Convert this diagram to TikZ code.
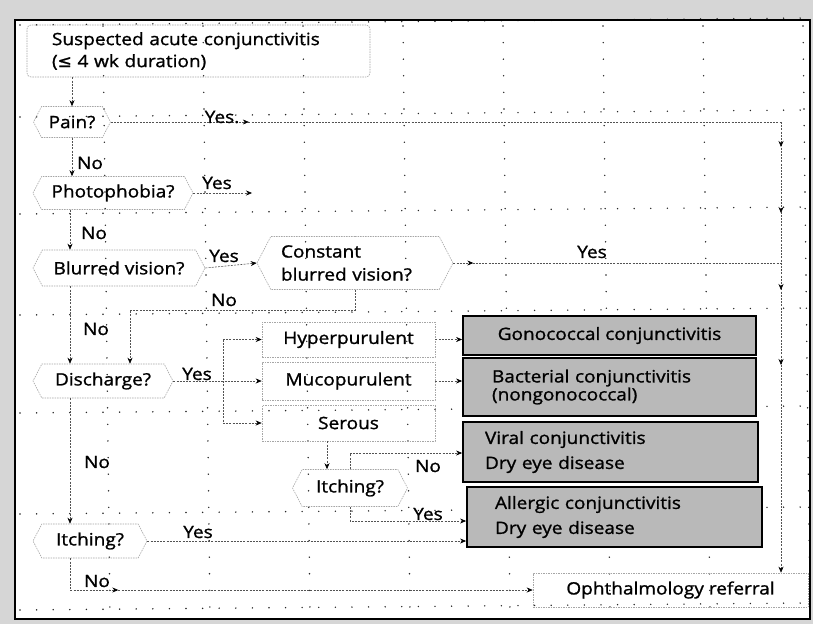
\documentclass[tikz,border=0pt]{standalone}
\usepackage{fontspec}
\setmainfont{Open Sans}[FakeStretch=1.12,FakeBold=1.2]
\newfontfamily\symf{DejaVu Sans}[FakeBold=1.2]
\usetikzlibrary{arrows.meta,shapes.symbols,decorations.markings}
\tikzset{
 griddot/.style={black!85, line width=1.6pt, line cap=round, dash pattern=on 0pt off 16.6pt},
 conn/.style={gray!65!black, line width=0.6pt, dash pattern=on 2pt off 1.2pt},
 arr/.style={-{Stealth[length=6pt,width=5pt,color=black]}},
 marr/.style={postaction={decorate,decoration={markings,mark=at position #1 with {\arrow{Stealth[length=6pt,width=5pt,color=black]}}}}},
 hexa/.style={signal, signal to=east and west, signal pointer angle=125, draw=gray!70, line width=0.6pt, dash pattern=on 1.5pt off 1pt, inner sep=0pt, align=center},
 lbox/.style={rectangle, draw=gray!70, line width=0.6pt, dash pattern=on 1.5pt off 1pt, inner sep=0pt},
 dbox/.style={rectangle, draw=black, line width=1.8pt, fill=gray!55, inner sep=0pt, align=left},
 lbl/.style={inner sep=0pt}
}
\begin{document}
\begin{tikzpicture}[x=1pt,y=-1pt,font=\fontsize{17}{22}\selectfont]
\useasboundingbox (0,0) rectangle (813,624);
\fill[gray!32] (0,0) rectangle (813,624);
\fill[white] (15,20) rectangle (810,619);
% dot grid
\foreach \x in {103,203,303,403,503,603,703,803} \draw[griddot] (\x,26) -- (\x+7,614);
\foreach \y in {25,117,214,315,413,514,610} \draw[griddot] (20,\y) -- (806,\y-7);
\draw[line width=2.5pt] (15,20) rectangle (810,619);

% nodes
\node[lbox, rounded corners=4pt, minimum width=343pt, minimum height=52pt, text width=293pt, align=left] (start) at (198.5,51) {Suspected acute conjunctivitis\\({\symf ≤} 4 wk duration)};
\node[hexa, minimum width=77pt, minimum height=31pt] (pain) at (72,122) {Pain?};
\node[hexa, minimum width=160pt, minimum height=33pt] (photo) at (113,193) {Photophobia?};
\node[hexa, minimum width=172pt, minimum height=36pt] (blurred) at (119,268) {Blurred vision?};
\node[hexa, minimum width=196pt, minimum height=53pt, text width=148pt, align=left, font=\fontsize{17}{23}\selectfont] (constant) at (355,263) {Constant\\blurred vision?};
\node[hexa, minimum width=140pt, minimum height=34pt] (discharge) at (103,381) {Discharge?};
\node[lbox, minimum width=173pt, minimum height=35pt] (hyper) at (348.5,339.5) {Hyperpurulent};
\node[lbox, minimum width=173pt, minimum height=38pt] (muco) at (348.5,381) {Mucopurulent};
\node[lbox, minimum width=173pt, minimum height=36pt] (serous) at (348.5,423) {Serous};
\node[hexa, minimum width=115pt, minimum height=37pt] (itch2) at (350,488) {Itching?};
\node[hexa, minimum width=114pt, minimum height=34pt] (itch1) at (90,541) {Itching?};
\node[dbox, minimum width=293pt, minimum height=39pt, align=center] (gono) at (609.5,335.5) {Gonococcal conjunctivitis};
\node[dbox, minimum width=293pt, minimum height=58pt, text width=235pt, font=\fontsize{17}{18}\selectfont] (bact) at (609.5,387) {Bacterial conjunctivitis\\(nongonococcal)};
\node[dbox, minimum width=295pt, minimum height=60pt, text width=251pt, font=\fontsize{17}{25}\selectfont] (viral) at (610.5,452) {Viral conjunctivitis\\Dry eye disease};
\node[dbox, minimum width=295pt, minimum height=60pt, text width=239pt, font=\fontsize{17}{25}\selectfont] (allergic) at (614.5,517) {Allergic conjunctivitis\\Dry eye disease};
\node[lbox, minimum width=275pt, minimum height=34pt] (ref) at (670.5,590) {Ophthalmology referral};

% helper coordinates
\coordinate (xl) at (70,0);
\coordinate (rtop) at (781,122);
\coordinate (pyes) at (252,193);
\coordinate (cn) at (130,310);
\coordinate (brx) at (223,0);
\coordinate (sx) at (327,0);
\coordinate (ix) at (350,0);
\coordinate (inn) at (350,453);
\coordinate (iny) at (350,521);

% connectors
\draw[conn,arr] (pain.north |- start.south) -- (pain.north);
\draw[conn,arr] (pain.south) -- (pain.south |- photo.north);
\draw[conn,marr=138pt] (pain.east) -- (rtop);
\draw[conn,arr,marr=25pt,marr=91pt,marr=168pt,marr=243pt] (rtop) -- (rtop |- ref.north);
\draw[conn,arr] (photo.east) -- (pyes);
\draw[conn,arr] (xl |- photo.south) -- (xl |- blurred.north);
\draw[conn,arr] (blurred.east) -- (constant.west);
\draw[conn,marr=20pt] (constant.east) -- (constant.east -| rtop);
\draw[conn,arr] (constant.south) |- (cn) -- (cn |- discharge.north);
\draw[conn,arr] (xl |- blurred.south) -- (xl |- discharge.north);
\draw[conn,arr] (discharge.east) -- (muco.west);
\draw[conn] (brx |- hyper.west) -- (brx |- serous.west);
\draw[conn,arr] (brx |- hyper.west) -- (hyper.west);
\draw[conn,arr] (brx |- serous.west) -- (serous.west);
\draw[conn,arr] (hyper.east) -- (hyper.east -| gono.west);
\draw[conn,arr] (muco.east) -- (muco.east -| bact.west);
\draw[conn,arr] (sx |- serous.south) -- (sx |- itch2.north);
\draw[conn,arr] (ix |- itch2.north) -- (inn) -- (inn -| viral.west);
\draw[conn,arr] (ix |- itch2.south) -- (iny) -- (iny -| allergic.west);
\draw[conn,arr] (xl |- discharge.south) -- (xl |- itch1.north);
\draw[conn,arr] (itch1.east) -- (itch1.east -| allergic.west);
\draw[conn,arr,marr=80pt] (xl |- itch1.south) -- (xl |- ref.west) -- (ref.west);

% labels
\node[lbl] (l1) at (222,117) {Yes.};
\node[lbl] (l2) at (90,163) {No};
\node[lbl] (l3) at (217,183) {Yes};
\node[lbl] (l4) at (94,233) {No};
\node[lbl] (l5) at (224,256) {Yes};
\node[lbl] (l6) at (224,300) {No};
\node[lbl] (l7) at (592,252) {Yes};
\node[lbl] (l8) at (96,329) {No};
\node[lbl] (l9) at (197,374) {Yes};
\node[lbl] (l10) at (97,462) {No};
\node[lbl] (l11) at (428,466) {No};
\node[lbl] (l12) at (428,514) {Yes};
\node[lbl] (l13) at (198,532) {Yes};
\node[lbl] (l14) at (97,581) {No};
\end{tikzpicture}
\end{document}
